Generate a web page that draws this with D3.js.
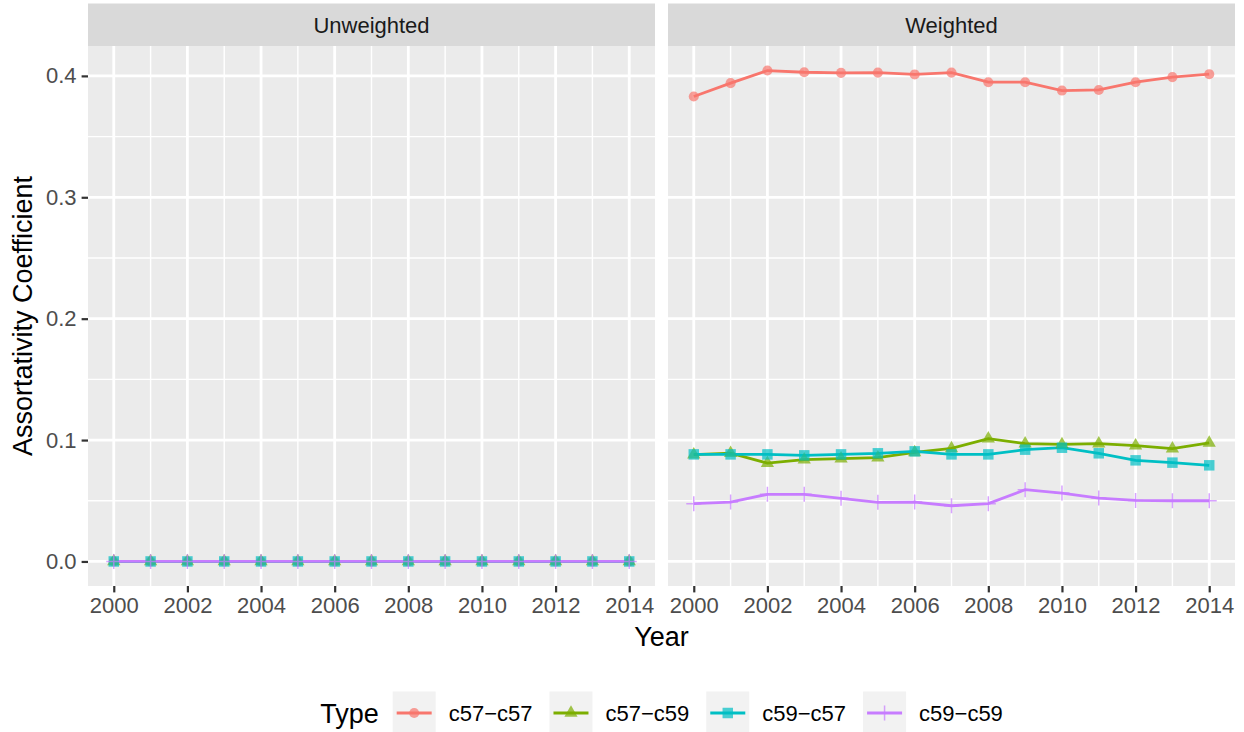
<!DOCTYPE html>
<html><head><meta charset="utf-8">
<script src="https://cdn.jsdelivr.net/npm/d3@7"></script>
<style>body{margin:0;background:#fff}svg{display:block}text{font-family:"Liberation Sans",Arial,Helvetica,sans-serif}</style>
</head><body><svg id="c" width="1244" height="732"></svg>
<script>
const years = [2000,2001,2002,2003,2004,2005,2006,2007,2008,2009,2010,2011,2012,2013,2014];
const panels = ["Unweighted","Weighted"];
const types = ["c57\u2212c57","c57\u2212c59","c59\u2212c57","c59\u2212c59"];
const colors = ["#F8766D","#7CAE00","#00BFC4","#C77CFF"];
const shapes = ["circle","triangle","square","plus"];
const yTicks = [0.0,0.1,0.2,0.3,0.4];
const xTicks = [2000,2002,2004,2006,2008,2010,2012,2014];
// Unweighted: all series are 0
const unw_c57c57 = [0,0,0,0,0,0,0,0,0,0,0,0,0,0,0];
const unw_c57c59 = [0,0,0,0,0,0,0,0,0,0,0,0,0,0,0];
const unw_c59c57 = [0,0,0,0,0,0,0,0,0,0,0,0,0,0,0];
const unw_c59c59 = [0,0,0,0,0,0,0,0,0,0,0,0,0,0,0];
// Weighted
const w_c57c57 = [0.383,0.394,0.4044,0.403,0.4025,0.4027,0.4012,0.4027,0.3948,0.3948,0.3879,0.3884,0.3948,0.399,0.4014];
const w_c57c59 = [0.088,0.0893,0.081,0.0839,0.0847,0.0855,0.0899,0.0932,0.1012,0.0971,0.0965,0.0971,0.0954,0.093,0.0976];
const w_c59c57 = [0.0882,0.0882,0.0882,0.0874,0.0882,0.0891,0.0907,0.0882,0.0882,0.0921,0.0937,0.0891,0.0833,0.0814,0.0792];
const w_c59c59 = [0.0476,0.0489,0.0553,0.0553,0.052,0.0487,0.0489,0.0459,0.0476,0.0591,0.0563,0.0522,0.0503,0.05,0.05];

const data = {
  "Unweighted":[unw_c57c57,unw_c57c59,unw_c59c57,unw_c59c59],
  "Weighted":[w_c57c57,w_c57c59,w_c59c57,w_c59c59]
};

const FS = 22, TS = 27;
const svg = d3.select("#c");
const panelTop = 46, panelBottom = 586, stripTop = 3.5;
const panelX = [[88,655],[668,1235]];
const allVals = [].concat(...Object.values(data).flat());
const ymin = d3.min(allVals), ymax = d3.max(allVals), yr = ymax - ymin;
const y = d3.scaleLinear().domain([ymin - 0.05*yr, ymax + 0.05*yr]).range([panelBottom, panelTop]);
const xr = years[years.length-1]-years[0];
const xDom = [years[0]-0.05*xr, years[years.length-1]+0.05*xr];
const yMinor = [0.05,0.15,0.25,0.35];
const xMinor = [2001,2003,2005,2007,2009,2011,2013];

function symbolPath(shape){
  if(shape==="circle") return d3.symbol(d3.symbolCircle, 80)();
  if(shape==="square") return d3.symbol(d3.symbolSquare, 110)();
  if(shape==="triangle") return d3.symbol(d3.symbolTriangle, 76)();
  return "M-7.5,0H7.5M0,-7.5V7.5";
}

panels.forEach((p,pi)=>{
  const [x0,x1] = panelX[pi];
  const x = d3.scaleLinear().domain(xDom).range([x0,x1]);
  const g = svg.append("g");
  g.append("rect").attr("x",x0).attr("y",panelTop).attr("width",x1-x0).attr("height",panelBottom-panelTop).attr("fill","#EBEBEB");
  // strip
  g.append("rect").attr("x",x0).attr("y",stripTop).attr("width",x1-x0).attr("height",panelTop-stripTop).attr("fill","#D9D9D9");
  g.append("text").attr("x",(x0+x1)/2).attr("y",(stripTop+panelTop)/2+7.8).attr("text-anchor","middle")
    .attr("font-size",FS).attr("fill","#1A1A1A").text(p);
  // minor grid
  yMinor.forEach(v=>g.append("line").attr("x1",x0).attr("x2",x1).attr("y1",y(v)).attr("y2",y(v)).attr("stroke","#fff").attr("stroke-width",1.4));
  xMinor.forEach(v=>g.append("line").attr("y1",panelTop).attr("y2",panelBottom).attr("x1",x(v)).attr("x2",x(v)).attr("stroke","#fff").attr("stroke-width",1.4));
  // major grid
  yTicks.forEach(v=>g.append("line").attr("x1",x0).attr("x2",x1).attr("y1",y(v)).attr("y2",y(v)).attr("stroke","#fff").attr("stroke-width",2.8));
  xTicks.forEach(v=>g.append("line").attr("y1",panelTop).attr("y2",panelBottom).attr("x1",x(v)).attr("x2",x(v)).attr("stroke","#fff").attr("stroke-width",2.8));
  // x axis
  const xa = svg.append("g").attr("transform",`translate(0,${panelBottom})`)
    .call(d3.axisBottom(x).tickValues(xTicks).tickFormat(d3.format("d")).tickSize(6.4).tickPadding(5));
  xa.select(".domain").remove();
  xa.selectAll(".tick line").attr("stroke","#333333").attr("stroke-width",2.2);
  xa.selectAll(".tick text").attr("font-size",FS).attr("fill","#4D4D4D").attr("font-family","Liberation Sans, Arial, sans-serif");
  if(pi===0){
    const ya = svg.append("g").attr("transform",`translate(${x0},0)`)
      .call(d3.axisLeft(y).tickValues(yTicks).tickFormat(d3.format(".1f")).tickSize(6.4).tickPadding(5));
    ya.select(".domain").remove();
    ya.selectAll(".tick line").attr("stroke","#333333").attr("stroke-width",2.2);
    ya.selectAll(".tick text").attr("font-size",FS).attr("fill","#4D4D4D").attr("font-family","Liberation Sans, Arial, sans-serif");
  }
  const series = data[p];
  const line = d3.line().x((d,i)=>x(years[i])).y(d=>y(d));
  series.forEach((s,si)=>{
    g.append("path").attr("d",line(s)).attr("fill","none").attr("stroke",colors[si]).attr("stroke-width",2.8);
  });
  series.forEach((s,si)=>{
    g.selectAll(null).data(s).enter().append("path")
      .attr("transform",(d,i)=>`translate(${x(years[i])},${y(d)})`)
      .attr("d",symbolPath(shapes[si]))
      .attr("fill",shapes[si]==="plus"?"none":colors[si])
      .attr("stroke",shapes[si]==="plus"?colors[si]:"none")
      .attr("stroke-width",1.5)
      .attr("opacity",0.7);
  });
});

// axis titles
svg.append("text").attr("x",661.5).attr("y",646).attr("text-anchor","middle").attr("font-size",TS).attr("fill","#000").text("Year");
svg.append("text").attr("transform",`translate(32,${(panelTop+panelBottom)/2}) rotate(-90)`).attr("text-anchor","middle").attr("font-size",TS).attr("fill","#000").text("Assortativity Coefficient");

// legend
const lg = svg.append("g");
const legY = 713, keyW = 43, keyH = 43;
const title = lg.append("text").attr("y",legY+9.6).attr("font-size",TS).attr("fill","#000").text("Type");
let cx = 0;
const tw = title.node().getComputedTextLength();
cx = tw + 14;
types.forEach((t,i)=>{
  const kg = lg.append("g").attr("transform",`translate(${cx},${legY-keyH/2})`);
  kg.append("rect").attr("width",keyW).attr("height",keyH).attr("fill","#F2F2F2");
  kg.append("line").attr("x1",4).attr("x2",keyW-4).attr("y1",keyH/2).attr("y2",keyH/2).attr("stroke",colors[i]).attr("stroke-width",2.8);
  kg.append("path").attr("transform",`translate(${keyW/2},${keyH/2})`).attr("d",symbolPath(shapes[i]))
    .attr("fill",shapes[i]==="plus"?"none":colors[i]).attr("stroke",shapes[i]==="plus"?colors[i]:"none").attr("stroke-width",1.5).attr("opacity",0.7);
  const lt = lg.append("text").attr("x",cx+keyW+13).attr("y",legY+7.8).attr("font-size",FS).attr("fill","#000").text(t);
  cx = cx + keyW + 13 + lt.node().getComputedTextLength() + (i<types.length-1?17:0);
});
lg.attr("transform",`translate(${661.5 - cx/2},0)`);
</script></body></html>
